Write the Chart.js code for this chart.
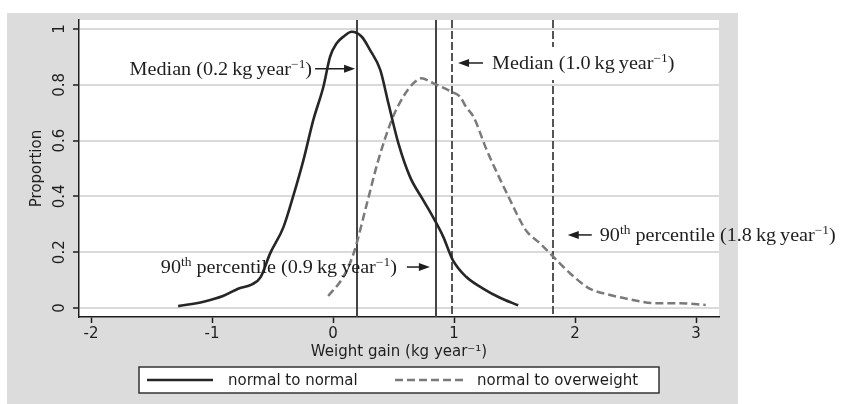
<!DOCTYPE html>
<html>
<head>
<meta charset="utf-8">
<script src="https://cdn.jsdelivr.net/npm/chart.js@4"></script>
<style>
  body { margin: 0; background: #fff; }
  canvas { display: block; }
</style>
</head>
<body>
<canvas id="chart" width="841" height="404"></canvas>
<script>
// density of weight gain
var normalX = [-1.28, -1.07, -0.91, -0.78, -0.67, -0.60, -0.52, -0.41, -0.33, -0.245, -0.163, -0.08, -0.025, 0.03, 0.085, 0.154, 0.237, 0.305, 0.39, 0.457, 0.54, 0.636, 0.745, 0.84, 0.91, 0.99, 1.10, 1.24, 1.38, 1.53];
var normalY = [0.007, 0.023, 0.043, 0.07, 0.085, 0.11, 0.196, 0.29, 0.40, 0.53, 0.674, 0.793, 0.90, 0.949, 0.972, 0.99, 0.972, 0.925, 0.853, 0.734, 0.59, 0.47, 0.387, 0.315, 0.256, 0.172, 0.112, 0.07, 0.037, 0.01];
var overX = [-0.04, 0.085, 0.17, 0.28, 0.374, 0.485, 0.58, 0.663, 0.73, 0.83, 0.98, 1.05, 1.10, 1.16, 1.27, 1.36, 1.46, 1.545, 1.6, 1.71, 1.82, 1.96, 2.12, 2.29, 2.48, 2.67, 2.87, 3.08];
var overY = [0.043, 0.112, 0.196, 0.375, 0.53, 0.674, 0.757, 0.805, 0.823, 0.805, 0.775, 0.757, 0.72, 0.686, 0.566, 0.48, 0.39, 0.315, 0.275, 0.232, 0.184, 0.124, 0.07, 0.047, 0.029, 0.017, 0.017, 0.011];

// median and 90th percentile lines
var normalLines = [0.2, 0.85];
var overLines = [0.98, 1.82];

var xTicks = [-2, -1, 0, 1, 2, 3];
var yTicks = [0, 0.2, 0.4, 0.6, 0.8, 1];
var seriesLabels = ['normal to normal', 'normal to overweight'];

function toPoints(xs, ys) {
  return xs.map(function (x, i) { return {x: x, y: ys[i]}; });
}

var SANS = '"DejaVu Sans", sans-serif';
var SERIF = '"Liberation Serif", "Times New Roman", serif';
var STRETCH = 1.12;
var INK = '#1e1e1e';
var SOLID = '#262626';
var DASHED = '#7a7a7a';

var sup1 = [{t: '\u22121', sup: true}, {t: ')'}];
var notes = [
  {parts: [{t: 'Median (0.2\u2009kg\u2009year'}].concat(sup1), tipX: 0.182, y: 0.857, dir: 'right', len: 40, gap: 3},
  {parts: [{t: 'Median (1.0\u2009kg\u2009year'}].concat(sup1), tipX: 1.033, y: 0.878, dir: 'left', len: 25, gap: 9, box: true},
  {parts: [{t: '90'}, {t: 'th', sup: true}, {t: ' percentile (1.8\u2009kg\u2009year'}].concat(sup1), tipX: 1.94, y: 0.262, dir: 'left', len: 24, gap: 8},
  {parts: [{t: '90'}, {t: 'th', sup: true}, {t: ' percentile (0.9\u2009kg\u2009year'}].concat(sup1), tipX: 0.80, y: 0.147, dir: 'right', len: 23, gap: 10}
];

function partFont(p) {
  return p.sup ? '12px ' + SERIF : '18px ' + SERIF;
}

function richWidth(ctx, parts) {
  var w = 0;
  parts.forEach(function (p) { ctx.font = partFont(p); w += ctx.measureText(p.t).width; });
  return w * STRETCH;
}

function richText(ctx, parts, x, y) {
  ctx.save();
  ctx.translate(x, y);
  ctx.scale(STRETCH, 1);
  ctx.fillStyle = INK;
  ctx.textBaseline = 'alphabetic';
  ctx.textAlign = 'left';
  var cx = 0;
  parts.forEach(function (p) {
    ctx.font = partFont(p);
    ctx.fillText(p.t, cx, p.sup ? -7 : 0);
    cx += ctx.measureText(p.t).width;
  });
  ctx.restore();
}

function arrow(ctx, tail, tip, y) {
  var d = tip > tail ? 1 : -1;
  ctx.save();
  ctx.strokeStyle = INK;
  ctx.fillStyle = INK;
  ctx.lineWidth = 1.5;
  ctx.beginPath();
  ctx.moveTo(tail, y);
  ctx.lineTo(tip - d * 8, y);
  ctx.stroke();
  ctx.beginPath();
  ctx.moveTo(tip, y);
  ctx.lineTo(tip - d * 11, y - 4);
  ctx.lineTo(tip - d * 11, y + 4);
  ctx.closePath();
  ctx.fill();
  ctx.restore();
}

var stataPlugin = {
  id: 'stata',
  beforeDraw: function (chart) {
    var ctx = chart.ctx, a = chart.chartArea;
    ctx.save();
    ctx.fillStyle = '#dcdcdd';
    ctx.fillRect(7, 13, 731, 391);
    ctx.fillStyle = '#fff';
    ctx.fillRect(a.left, a.top, a.right - a.left, a.bottom - a.top);
    ctx.restore();
  },
  beforeDatasetsDraw: function (chart) {
    var ctx = chart.ctx, a = chart.chartArea, xs = chart.scales.x;
    ctx.save();
    ctx.lineWidth = 2;
    ctx.strokeStyle = '#444';
    normalLines.forEach(function (v) {
      var px = Math.round(xs.getPixelForValue(v));
      ctx.beginPath(); ctx.moveTo(px, a.top); ctx.lineTo(px, a.bottom); ctx.stroke();
    });
    ctx.strokeStyle = '#555';
    ctx.setLineDash([8, 3]);
    overLines.forEach(function (v) {
      var px = Math.round(xs.getPixelForValue(v));
      ctx.beginPath(); ctx.moveTo(px, a.top); ctx.lineTo(px, a.bottom); ctx.stroke();
    });
    ctx.restore();
  },
  afterDatasetsDraw: function (chart) {
    var ctx = chart.ctx, xs = chart.scales.x, ys = chart.scales.y;

    // annotations with arrows
    notes.forEach(function (n) {
      var tip = xs.getPixelForValue(n.tipX);
      var py = ys.getPixelForValue(n.y);
      var w = richWidth(ctx, n.parts);
      var tail, tx;
      if (n.dir === 'right') {
        tail = tip - n.len;
        tx = tail - n.gap - w;
      } else {
        tail = tip + n.len;
        tx = tail + n.gap;
      }
      if (n.box) {
        ctx.fillStyle = '#fff';
        ctx.fillRect(tx - 4, py - 16, w + 8, 33);
      }
      arrow(ctx, tail, tip, py);
      richText(ctx, n.parts, tx, py + 6);
    });

    // vertical y tick labels, Stata style
    ctx.save();
    ctx.fillStyle = INK;
    ctx.font = '15px ' + SANS;
    ctx.textAlign = 'center';
    ctx.textBaseline = 'middle';
    yTicks.forEach(function (v) {
      ctx.save();
      ctx.translate(60, ys.getPixelForValue(v));
      ctx.rotate(-Math.PI / 2);
      ctx.fillText(String(v), 0, 0);
      ctx.restore();
    });
    ctx.restore();

    // boxed legend under the axis
    ctx.save();
    ctx.fillStyle = '#fff';
    ctx.fillRect(139, 367, 520, 26);
    ctx.strokeStyle = '#333';
    ctx.lineWidth = 1.5;
    ctx.strokeRect(139, 367, 520, 26);
    ctx.lineWidth = 2.5;
    ctx.strokeStyle = SOLID;
    ctx.beginPath(); ctx.moveTo(147, 380); ctx.lineTo(213, 380); ctx.stroke();
    ctx.strokeStyle = DASHED;
    ctx.setLineDash([8, 4]);
    ctx.beginPath(); ctx.moveTo(395, 380); ctx.lineTo(465, 380); ctx.stroke();
    ctx.fillStyle = INK;
    ctx.font = '15px ' + SANS;
    ctx.textBaseline = 'middle';
    ctx.fillText(seriesLabels[0], 228, 381);
    ctx.fillText(seriesLabels[1], 477, 381);
    ctx.restore();
  }
};

new Chart(document.getElementById('chart'), {
  type: 'line',
  data: {
    datasets: [{
      label: seriesLabels[0],
      data: toPoints(normalX, normalY),
      borderColor: SOLID,
      borderWidth: 2.6,
      pointRadius: 0,
      cubicInterpolationMode: 'monotone'
    }, {
      label: seriesLabels[1],
      data: toPoints(overX, overY),
      borderColor: DASHED,
      borderWidth: 2.5,
      borderDash: [8, 4],
      pointRadius: 0,
      cubicInterpolationMode: 'monotone'
    }]
  },
  options: {
    responsive: false,
    animation: false,
    layout: { padding: { left: 0, top: 20, right: 122, bottom: 0 } },
    plugins: {
      legend: { display: false },
      tooltip: { enabled: false }
    },
    scales: {
      x: {
        type: 'linear',
        min: -2.1,
        max: 3.19,
        afterBuildTicks: function (s) { s.ticks = xTicks.map(function (v) { return {value: v}; }); },
        afterFit: function (s) { s.height = 87; },
        ticks: {
          color: INK,
          font: { family: SANS, size: 15 },
          padding: 2,
          maxRotation: 0,
          callback: function (v) { return String(v); }
        },
        grid: { drawOnChartArea: false, tickColor: INK, tickLength: 6, tickWidth: 1.5 },
        border: { color: INK, width: 1.5 },
        title: {
          display: true,
          text: 'Weight gain (kg year\u207b\u00b9)',
          color: INK,
          font: { family: SANS, size: 15 },
          padding: { top: 0, bottom: 43 }
        }
      },
      y: {
        min: -0.032,
        max: 1.032,
        afterBuildTicks: function (s) { s.ticks = yTicks.map(function (v) { return {value: v}; }); },
        afterFit: function (s) { s.width = 79; },
        ticks: { display: false },
        grid: { color: '#dadada', lineWidth: 2, tickColor: INK, tickLength: 6, tickWidth: 1.5 },
        border: { color: INK, width: 1.5 },
        title: {
          display: true,
          text: 'Proportion',
          color: INK,
          font: { family: SANS, size: 15 },
          padding: { top: 28, bottom: 0 }
        }
      }
    }
  },
  plugins: [stataPlugin]
});
</script>
</body>
</html>
